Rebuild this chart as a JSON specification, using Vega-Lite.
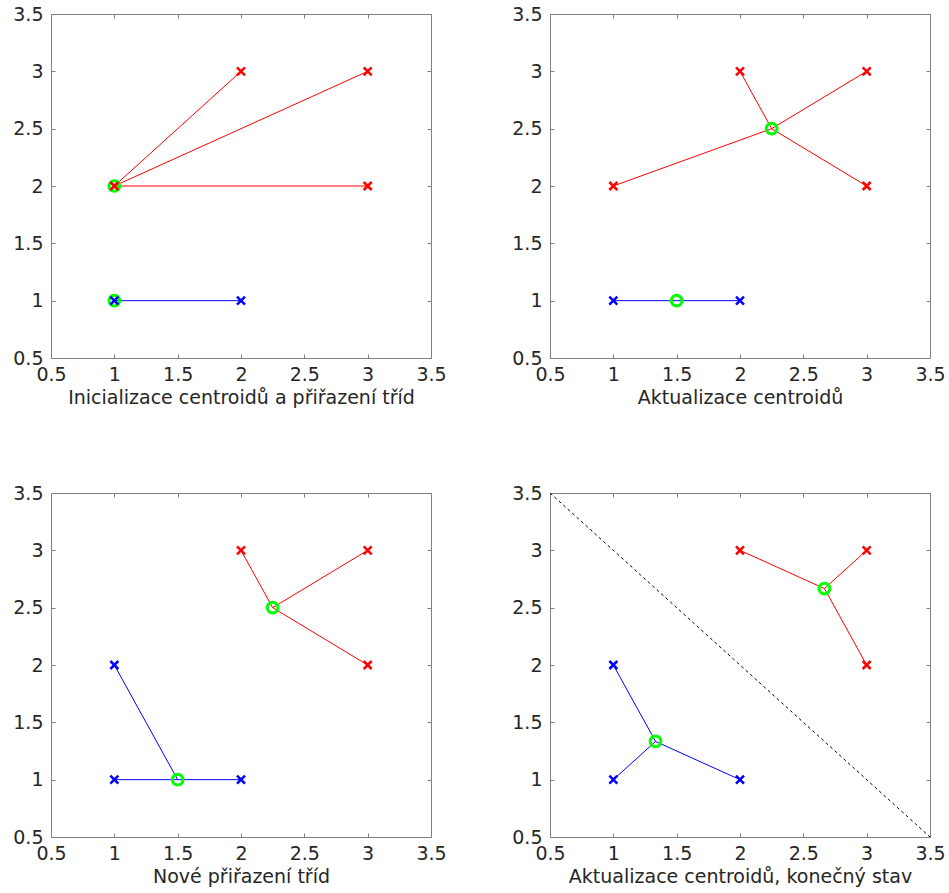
{
  "$schema": "https://vega.github.io/schema/vega-lite/v6.json",
  "background": "white",
  "padding": {"left": 12, "top": 4, "right": 0, "bottom": 0},
  "spacing": 75,
  "config": {
    "font": "DejaVu Sans",
    "view": {"stroke": "#808080", "strokeWidth": 1},
    "scale": {"nice": false, "zero": false},
    "axis": {
      "grid": false, "domain": false, "tickColor": "#808080", "tickSize": -4, "tickWidth": 1,
      "labelFont": "DejaVu Sans", "labelFontSize": 19, "labelColor": "#262626",
      "titleFont": "DejaVu Sans", "titleFontSize": 19, "titleFontWeight": "normal", "titleColor": "#262626", "titlePadding": 4,
      "labelPadding": 11, "format": "~g", "labelFlush": false, "labelOverlap": false
    },
    "axisY": {"labelPadding": 12},
    "concat": {"spacing": 64}
  },
  "datasets": {
    "pts": [
      {"p": 1, "x": 2, "y": 3, "c": "r"}, {"p": 1, "x": 3, "y": 3, "c": "r"}, {"p": 1, "x": 3, "y": 2, "c": "r"}, {"p": 1, "x": 1, "y": 2, "c": "r"}, {"p": 1, "x": 1, "y": 1, "c": "b"}, {"p": 1, "x": 2, "y": 1, "c": "b"},
      {"p": 2, "x": 2, "y": 3, "c": "r"}, {"p": 2, "x": 3, "y": 3, "c": "r"}, {"p": 2, "x": 3, "y": 2, "c": "r"}, {"p": 2, "x": 1, "y": 2, "c": "r"}, {"p": 2, "x": 1, "y": 1, "c": "b"}, {"p": 2, "x": 2, "y": 1, "c": "b"},
      {"p": 3, "x": 2, "y": 3, "c": "r"}, {"p": 3, "x": 3, "y": 3, "c": "r"}, {"p": 3, "x": 3, "y": 2, "c": "r"}, {"p": 3, "x": 1, "y": 2, "c": "b"}, {"p": 3, "x": 1, "y": 1, "c": "b"}, {"p": 3, "x": 2, "y": 1, "c": "b"},
      {"p": 4, "x": 2, "y": 3, "c": "r"}, {"p": 4, "x": 3, "y": 3, "c": "r"}, {"p": 4, "x": 3, "y": 2, "c": "r"}, {"p": 4, "x": 1, "y": 2, "c": "b"}, {"p": 4, "x": 1, "y": 1, "c": "b"}, {"p": 4, "x": 2, "y": 1, "c": "b"}
    ],
    "segs": [
      {"p": 1, "x": 2, "y": 3, "cx": 1, "cy": 2, "c": "r"}, {"p": 1, "x": 3, "y": 3, "cx": 1, "cy": 2, "c": "r"}, {"p": 1, "x": 3, "y": 2, "cx": 1, "cy": 2, "c": "r"}, {"p": 1, "x": 2, "y": 1, "cx": 1, "cy": 1, "c": "b"},
      {"p": 2, "x": 2, "y": 3, "cx": 2.25, "cy": 2.5, "c": "r"}, {"p": 2, "x": 3, "y": 3, "cx": 2.25, "cy": 2.5, "c": "r"}, {"p": 2, "x": 3, "y": 2, "cx": 2.25, "cy": 2.5, "c": "r"}, {"p": 2, "x": 1, "y": 2, "cx": 2.25, "cy": 2.5, "c": "r"}, {"p": 2, "x": 1, "y": 1, "cx": 1.5, "cy": 1, "c": "b"}, {"p": 2, "x": 2, "y": 1, "cx": 1.5, "cy": 1, "c": "b"},
      {"p": 3, "x": 2, "y": 3, "cx": 2.25, "cy": 2.5, "c": "r"}, {"p": 3, "x": 3, "y": 3, "cx": 2.25, "cy": 2.5, "c": "r"}, {"p": 3, "x": 3, "y": 2, "cx": 2.25, "cy": 2.5, "c": "r"}, {"p": 3, "x": 1, "y": 2, "cx": 1.5, "cy": 1, "c": "b"}, {"p": 3, "x": 1, "y": 1, "cx": 1.5, "cy": 1, "c": "b"}, {"p": 3, "x": 2, "y": 1, "cx": 1.5, "cy": 1, "c": "b"},
      {"p": 4, "x": 2, "y": 3, "cx": 2.6667, "cy": 2.6667, "c": "r"}, {"p": 4, "x": 3, "y": 3, "cx": 2.6667, "cy": 2.6667, "c": "r"}, {"p": 4, "x": 3, "y": 2, "cx": 2.6667, "cy": 2.6667, "c": "r"}, {"p": 4, "x": 1, "y": 2, "cx": 1.3333, "cy": 1.3333, "c": "b"}, {"p": 4, "x": 1, "y": 1, "cx": 1.3333, "cy": 1.3333, "c": "b"}, {"p": 4, "x": 2, "y": 1, "cx": 1.3333, "cy": 1.3333, "c": "b"}
    ],
    "cent": [
      {"p": 1, "x": 1, "y": 2}, {"p": 1, "x": 1, "y": 1},
      {"p": 2, "x": 2.25, "y": 2.5}, {"p": 2, "x": 1.5, "y": 1},
      {"p": 3, "x": 2.25, "y": 2.5}, {"p": 3, "x": 1.5, "y": 1},
      {"p": 4, "x": 2.6667, "y": 2.6667}, {"p": 4, "x": 1.3333, "y": 1.3333}
    ],
    "bound": [{"p": 4, "x": 0.5, "y": 3.5, "x2": 3.5, "y2": 0.5}]
  },
  "vconcat": [
    {"hconcat": [
      {"width": 380, "height": 344, "resolve": {"axis": {"x": "independent", "y": "independent"}},
       "layer": [
        {"data": {"name": "segs"}, "transform": [{"filter": "datum.p == 1"}], "mark": {"type": "rule", "strokeWidth": 1},
         "encoding": {"x": {"field": "x", "type": "quantitative", "scale": {"domain": [0.5, 3.5]}, "axis": {"title": "Inicializace centroidů a přiřazení tříd", "values": [0.5, 1, 1.5, 2, 2.5, 3, 3.5]}}, "y": {"field": "y", "type": "quantitative", "scale": {"domain": [0.5, 3.5]}, "axis": {"title": null, "values": [0.5, 1, 1.5, 2, 2.5, 3, 3.5]}}, "x2": {"field": "cx"}, "y2": {"field": "cy"}, "color": {"field": "c", "type": "nominal", "scale": {"domain": ["r", "b"], "range": ["#ff0000", "#0000ff"]}, "legend": null}}},
        {"data": {"name": "cent"}, "transform": [{"filter": "datum.p == 1"}], "mark": {"type": "point", "shape": "circle", "filled": false, "stroke": "#00ff00", "strokeWidth": 3, "size": 115, "opacity": 1},
         "encoding": {"x": {"field": "x", "type": "quantitative", "scale": {"domain": [0.5, 3.5]}, "axis": null}, "y": {"field": "y", "type": "quantitative", "scale": {"domain": [0.5, 3.5]}, "axis": null}}},
        {"data": {"name": "pts"}, "transform": [{"filter": "datum.p == 1"}], "mark": {"type": "point", "shape": "M-1,-1L1,1M-1,1L1,-1", "filled": false, "strokeWidth": 2.5, "size": 64, "opacity": 1},
         "encoding": {"x": {"field": "x", "type": "quantitative", "scale": {"domain": [0.5, 3.5]}, "axis": {"orient": "top", "labels": false, "title": null, "values": [0.5, 1, 1.5, 2, 2.5, 3, 3.5]}}, "y": {"field": "y", "type": "quantitative", "scale": {"domain": [0.5, 3.5]}, "axis": {"orient": "right", "labels": false, "title": null, "values": [0.5, 1, 1.5, 2, 2.5, 3, 3.5]}}, "color": {"field": "c", "type": "nominal", "legend": null}}}
       ]},
      {"width": 380, "height": 344, "resolve": {"axis": {"x": "independent", "y": "independent"}},
       "layer": [
        {"data": {"name": "segs"}, "transform": [{"filter": "datum.p == 2"}], "mark": {"type": "rule", "strokeWidth": 1},
         "encoding": {"x": {"field": "x", "type": "quantitative", "scale": {"domain": [0.5, 3.5]}, "axis": {"title": "Aktualizace centroidů", "values": [0.5, 1, 1.5, 2, 2.5, 3, 3.5]}}, "y": {"field": "y", "type": "quantitative", "scale": {"domain": [0.5, 3.5]}, "axis": {"title": null, "values": [0.5, 1, 1.5, 2, 2.5, 3, 3.5]}}, "x2": {"field": "cx"}, "y2": {"field": "cy"}, "color": {"field": "c", "type": "nominal", "scale": {"domain": ["r", "b"], "range": ["#ff0000", "#0000ff"]}, "legend": null}}},
        {"data": {"name": "cent"}, "transform": [{"filter": "datum.p == 2"}], "mark": {"type": "point", "shape": "circle", "filled": false, "stroke": "#00ff00", "strokeWidth": 3, "size": 115, "opacity": 1},
         "encoding": {"x": {"field": "x", "type": "quantitative", "scale": {"domain": [0.5, 3.5]}, "axis": null}, "y": {"field": "y", "type": "quantitative", "scale": {"domain": [0.5, 3.5]}, "axis": null}}},
        {"data": {"name": "pts"}, "transform": [{"filter": "datum.p == 2"}], "mark": {"type": "point", "shape": "M-1,-1L1,1M-1,1L1,-1", "filled": false, "strokeWidth": 2.5, "size": 64, "opacity": 1},
         "encoding": {"x": {"field": "x", "type": "quantitative", "scale": {"domain": [0.5, 3.5]}, "axis": {"orient": "top", "labels": false, "title": null, "values": [0.5, 1, 1.5, 2, 2.5, 3, 3.5]}}, "y": {"field": "y", "type": "quantitative", "scale": {"domain": [0.5, 3.5]}, "axis": {"orient": "right", "labels": false, "title": null, "values": [0.5, 1, 1.5, 2, 2.5, 3, 3.5]}}, "color": {"field": "c", "type": "nominal", "legend": null}}}
       ]}
    ]},
    {"hconcat": [
      {"width": 380, "height": 344, "resolve": {"axis": {"x": "independent", "y": "independent"}},
       "layer": [
        {"data": {"name": "segs"}, "transform": [{"filter": "datum.p == 3"}], "mark": {"type": "rule", "strokeWidth": 1},
         "encoding": {"x": {"field": "x", "type": "quantitative", "scale": {"domain": [0.5, 3.5]}, "axis": {"title": "Nové přiřazení tříd", "values": [0.5, 1, 1.5, 2, 2.5, 3, 3.5]}}, "y": {"field": "y", "type": "quantitative", "scale": {"domain": [0.5, 3.5]}, "axis": {"title": null, "values": [0.5, 1, 1.5, 2, 2.5, 3, 3.5]}}, "x2": {"field": "cx"}, "y2": {"field": "cy"}, "color": {"field": "c", "type": "nominal", "scale": {"domain": ["r", "b"], "range": ["#ff0000", "#0000ff"]}, "legend": null}}},
        {"data": {"name": "cent"}, "transform": [{"filter": "datum.p == 3"}], "mark": {"type": "point", "shape": "circle", "filled": false, "stroke": "#00ff00", "strokeWidth": 3, "size": 115, "opacity": 1},
         "encoding": {"x": {"field": "x", "type": "quantitative", "scale": {"domain": [0.5, 3.5]}, "axis": null}, "y": {"field": "y", "type": "quantitative", "scale": {"domain": [0.5, 3.5]}, "axis": null}}},
        {"data": {"name": "pts"}, "transform": [{"filter": "datum.p == 3"}], "mark": {"type": "point", "shape": "M-1,-1L1,1M-1,1L1,-1", "filled": false, "strokeWidth": 2.5, "size": 64, "opacity": 1},
         "encoding": {"x": {"field": "x", "type": "quantitative", "scale": {"domain": [0.5, 3.5]}, "axis": {"orient": "top", "labels": false, "title": null, "values": [0.5, 1, 1.5, 2, 2.5, 3, 3.5]}}, "y": {"field": "y", "type": "quantitative", "scale": {"domain": [0.5, 3.5]}, "axis": {"orient": "right", "labels": false, "title": null, "values": [0.5, 1, 1.5, 2, 2.5, 3, 3.5]}}, "color": {"field": "c", "type": "nominal", "legend": null}}}
       ]},
      {"width": 380, "height": 344, "resolve": {"axis": {"x": "independent", "y": "independent"}},
       "layer": [
        {"data": {"name": "segs"}, "transform": [{"filter": "datum.p == 4"}], "mark": {"type": "rule", "strokeWidth": 1},
         "encoding": {"x": {"field": "x", "type": "quantitative", "scale": {"domain": [0.5, 3.5]}, "axis": {"title": "Aktualizace centroidů, konečný stav", "values": [0.5, 1, 1.5, 2, 2.5, 3, 3.5]}}, "y": {"field": "y", "type": "quantitative", "scale": {"domain": [0.5, 3.5]}, "axis": {"title": null, "values": [0.5, 1, 1.5, 2, 2.5, 3, 3.5]}}, "x2": {"field": "cx"}, "y2": {"field": "cy"}, "color": {"field": "c", "type": "nominal", "scale": {"domain": ["r", "b"], "range": ["#ff0000", "#0000ff"]}, "legend": null}}},
        {"data": {"name": "bound"}, "mark": {"type": "rule", "strokeWidth": 1, "color": "#000000", "strokeDash": [3, 3]},
         "encoding": {"x": {"field": "x", "type": "quantitative", "scale": {"domain": [0.5, 3.5]}, "axis": null}, "y": {"field": "y", "type": "quantitative", "scale": {"domain": [0.5, 3.5]}, "axis": null}, "x2": {"field": "x2"}, "y2": {"field": "y2"}}},
        {"data": {"name": "cent"}, "transform": [{"filter": "datum.p == 4"}], "mark": {"type": "point", "shape": "circle", "filled": false, "stroke": "#00ff00", "strokeWidth": 3, "size": 115, "opacity": 1},
         "encoding": {"x": {"field": "x", "type": "quantitative", "scale": {"domain": [0.5, 3.5]}, "axis": null}, "y": {"field": "y", "type": "quantitative", "scale": {"domain": [0.5, 3.5]}, "axis": null}}},
        {"data": {"name": "pts"}, "transform": [{"filter": "datum.p == 4"}], "mark": {"type": "point", "shape": "M-1,-1L1,1M-1,1L1,-1", "filled": false, "strokeWidth": 2.5, "size": 64, "opacity": 1},
         "encoding": {"x": {"field": "x", "type": "quantitative", "scale": {"domain": [0.5, 3.5]}, "axis": {"orient": "top", "labels": false, "title": null, "values": [0.5, 1, 1.5, 2, 2.5, 3, 3.5]}}, "y": {"field": "y", "type": "quantitative", "scale": {"domain": [0.5, 3.5]}, "axis": {"orient": "right", "labels": false, "title": null, "values": [0.5, 1, 1.5, 2, 2.5, 3, 3.5]}}, "color": {"field": "c", "type": "nominal", "legend": null}}}
       ]}
    ]}
  ]
}
